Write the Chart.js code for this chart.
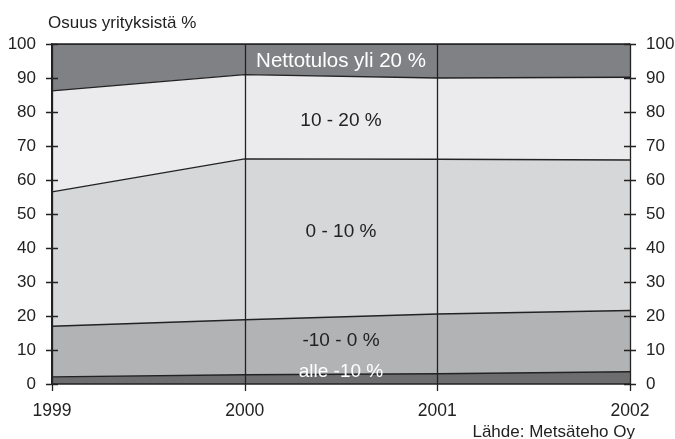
<!DOCTYPE html>
<html>
<head>
<meta charset="utf-8">
<script src="https://cdn.jsdelivr.net/npm/chart.js@4/dist/chart.umd.min.js"></script>
<style>
html,body{margin:0;padding:0;background:#fff;}
#wrap{width:675px;height:439px;position:relative;}
</style>
</head>
<body>
<div id="wrap"><canvas id="c" width="675" height="439"></canvas></div>
<script>
const years = ['1999', '2000', '2001', '2002'];
const alleMinus10 = [2.1, 2.7, 3.0, 3.6];
const minus10to0 = [14.9, 16.2, 17.6, 18.0];
const zeroTo10 = [39.5, 47.3, 45.5, 44.3];
const tenTo20 = [29.7, 24.8, 23.9, 24.3];
const over20 = [13.8, 9.0, 10.0, 9.8];
const seriesNames = ['alle -10 %', '-10 - 0 %', '0 - 10 %', '10 - 20 %', 'Nettotulos yli 20 %'];
const yTicks = [0, 10, 20, 30, 40, 50, 60, 70, 80, 90, 100];
const titleText = 'Osuus yrityksistä %';
const sourceText = 'Lähde: Metsäteho Oy';

const FONT = '"Liberation Sans", Arial, Helvetica, sans-serif';
const INK = '#222222';
const fills = ['#6d6d6f', '#b2b3b5', '#d6d7d9', '#ebebed', '#808184'];
const allSeries = [alleMinus10, minus10to0, zeroTo10, tenTo20, over20];

// label positions: [x index, y value, colour, size]
const labelPos = [
  [1.5, 3.6, '#ffffff', 19],
  [1.5, 12.6, INK, 19],
  [1.5, 44.7, INK, 19],
  [1.5, 77.4, INK, 19],
  [1.5, 94.8, '#ffffff', 20.5]
];

const overlay = {
  id: 'overlay',
  afterDatasetsDraw(chart) {
    const ctx = chart.ctx;
    const xs = chart.scales.x, ys = chart.scales.y;
    const a = chart.chartArea;
    ctx.save();
    ctx.strokeStyle = INK;
    ctx.lineWidth = 1.3;
    years.forEach((y, i) => {
      const px = Math.round(xs.getPixelForValue(i)) + 0.5;
      ctx.beginPath();
      ctx.moveTo(px, a.top);
      ctx.lineTo(px, a.bottom + 7);
      ctx.stroke();
    });
    yTicks.forEach(v => {
      const py = Math.round(ys.getPixelForValue(v)) + 0.5;
      ctx.beginPath();
      ctx.moveTo(a.left - 6, py); ctx.lineTo(a.left + 6, py);
      ctx.moveTo(a.right - 6, py); ctx.lineTo(a.right + 6, py);
      ctx.stroke();
    });
    ctx.beginPath();
    ctx.moveTo(a.left, a.top); ctx.lineTo(a.right, a.top);
    ctx.moveTo(a.left, a.bottom); ctx.lineTo(a.right, a.bottom);
    ctx.stroke();
    ctx.textAlign = 'center';
    ctx.textBaseline = 'middle';
    labelPos.forEach((p, i) => {
      ctx.fillStyle = p[2];
      ctx.font = p[3] + 'px ' + FONT;
      ctx.fillText(seriesNames[i], xs.getPixelForValue(p[0]), ys.getPixelForValue(p[1]));
    });
    ctx.fillStyle = INK;
    ctx.font = '17px ' + FONT;
    ctx.textAlign = 'left';
    ctx.fillText(titleText, 48, 23);
    ctx.textAlign = 'right';
    ctx.fillText(sourceText, 635, 432);
    ctx.restore();
  }
};

new Chart(document.getElementById('c'), {
  type: 'line',
  data: {
    labels: years,
    datasets: allSeries.map((d, i) => ({
      label: seriesNames[i],
      data: d,
      fill: i === 0 ? 'origin' : '-1',
      backgroundColor: fills[i],
      borderColor: INK,
      borderWidth: 1.4,
      pointRadius: 0,
      tension: 0
    }))
  },
  options: {
    responsive: false,
    animation: false,
    layout: { padding: { top: 44, left: 0, right: 0, bottom: 0 } },
    plugins: { legend: { display: false }, tooltip: { enabled: false }, title: { display: false } },
    scales: {
      x: {
        type: 'category',
        offset: false,
        grid: { display: false, drawTicks: false },
        border: { display: false },
        ticks: { color: INK, font: { family: FONT, size: 17.5 }, padding: 17, maxRotation: 0 },
        afterFit: s => { s.height = 55; }
      },
      y: {
        stacked: true,
        min: 0, max: 100,
        grid: { display: false, drawTicks: false },
        border: { display: true, color: INK, width: 1.3 },
        ticks: { stepSize: 10, color: INK, font: { family: FONT, size: 17 }, padding: 16 },
        afterFit: s => { s.width = 52; }
      },
      y2: {
        position: 'right',
        min: 0, max: 100,
        grid: { display: false, drawTicks: false },
        border: { display: true, color: INK, width: 1.3 },
        ticks: { stepSize: 10, color: INK, font: { family: FONT, size: 17 }, padding: 16 },
        afterFit: s => { s.width = 45; }
      }
    }
  },
  plugins: [overlay]
});
</script>
</body>
</html>
